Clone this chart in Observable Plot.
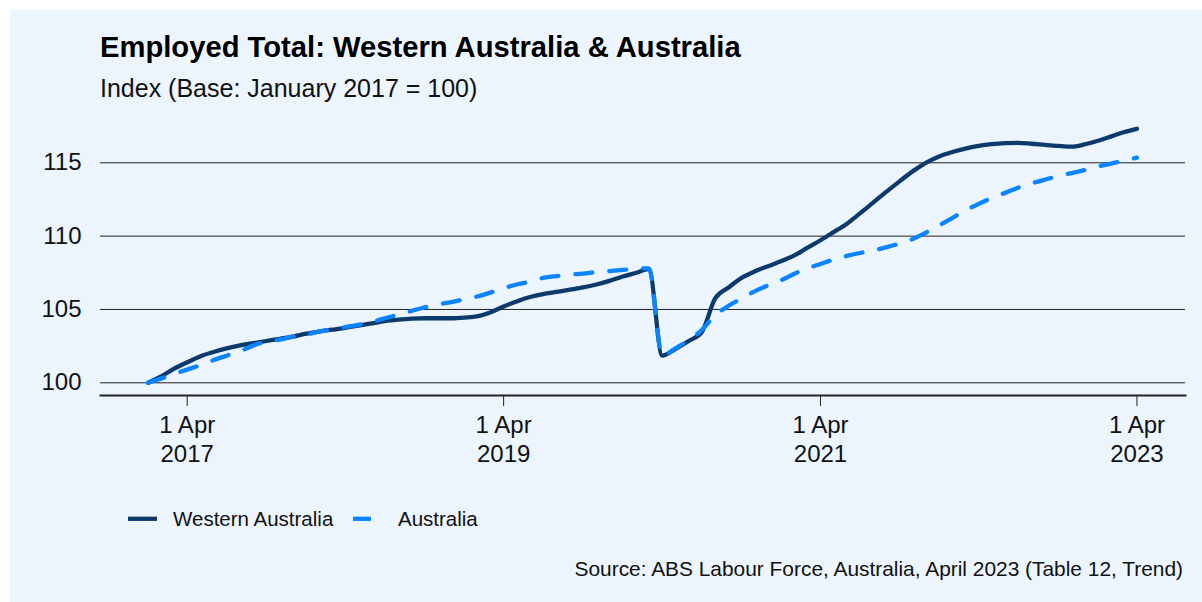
<!DOCTYPE html>
<html>
<head>
<meta charset="utf-8">
<script src="https://cdn.jsdelivr.net/npm/d3@7"></script>
<script src="https://cdn.jsdelivr.net/npm/@observablehq/plot@0.6"></script>
<style>
  html, body { margin: 0; padding: 0; background: #ffffff; }
  body { width: 1202px; height: 602px; position: relative; overflow: hidden; font-family: "Liberation Sans", Arial, sans-serif; color: #111; }
  #panel { position: absolute; left: 10px; top: 10px; width: 1192px; height: 592px; background: #ECF4FD; }
  .txt { position: absolute; white-space: nowrap; }
  #title { left: 100px; top: 33.3px; font-size: 29.2px; line-height: 29.2px; font-weight: bold; color: #000; }
  #subtitle { left: 100px; top: 75.8px; font-size: 25px; line-height: 25px; color: #111; }
  #chart { position: absolute; left: 0; top: 100px; }
  #legend { position: absolute; left: 0; top: 500px; width: 600px; height: 40px; }
  #caption { right: 19px; top: 559px; font-size: 20.9px; line-height: 20.9px; color: #111; }
</style>
</head>
<body>
<div id="panel"></div>
<div id="title" class="txt">Employed Total: Western Australia &amp; Australia</div>
<div id="subtitle" class="txt">Index (Base: January 2017 = 100)</div>
<div id="chart"></div>
<div id="legend"></div>
<div id="caption" class="txt">Source: ABS Labour Force, Australia, April 2023 (Table 12, Trend)</div>
<script>
// ---- Data (monthly, January 2017 to April 2023) ----
const startMonth = Date.UTC(2017, 0, 1);
const seriesNames = ["Western Australia", "Australia"];
const seriesColors = ["#0C3A6B", "#0A84FF"];
const waValues = [
  100.0, 100.45, 100.95, 101.4, 101.8, 102.1, 102.35, 102.55, 102.7, 102.85, 103.0, 103.15,
  103.35, 103.5, 103.62, 103.75, 103.9, 104.05, 104.2, 104.3, 104.37, 104.4, 104.4, 104.4,
  104.45, 104.55, 104.8, 105.2, 105.55, 105.85, 106.05, 106.2, 106.35, 106.5, 106.7, 106.95,
  107.25, 107.5, 107.75, 101.85, 102.3, 102.85, 103.45, 105.75, 106.5, 107.15, 107.6, 107.95,
  108.3, 108.7, 109.2, 109.72, 110.27, 110.85, 111.55, 112.3, 113.05, 113.75, 114.45, 115.02,
  115.45, 115.75, 115.97, 116.15, 116.27, 116.34, 116.36, 116.3, 116.22, 116.15, 116.1, 116.25,
  116.5, 116.8, 117.08, 117.32
];
const ausValues = [
  100.0, 100.3, 100.6, 100.9, 101.2, 101.55, 101.85, 102.15, 102.55, 102.8, 102.95, 103.15,
  103.3, 103.5, 103.65, 103.8, 103.95, 104.15, 104.4, 104.65, 104.9, 105.15, 105.35, 105.5,
  105.7, 105.9, 106.15, 106.45, 106.7, 106.9, 107.15, 107.28, 107.38, 107.45, 107.55, 107.62,
  107.7, 107.78, 107.8, 101.85, 102.35, 102.9, 103.6, 104.6, 105.25, 105.75, 106.25, 106.65,
  107.0, 107.45, 107.8, 108.1, 108.4, 108.65, 108.85, 109.03, 109.25, 109.5, 109.82, 110.25,
  110.75, 111.27, 111.75, 112.2, 112.6, 112.95, 113.3, 113.6, 113.85, 114.1, 114.3, 114.5,
  114.75, 114.95, 115.15, 115.35
];
const yTicks = [100, 105, 110, 115];
const xTickDates = ["2017-04-01", "2019-04-01", "2021-04-01", "2023-04-01"];
const xDomain = ["2016-09-13", "2023-07-22"];
const yDomain = [99.134, 118.566];

// ---- Build table ----
const rows = [];
[waValues, ausValues].forEach((vals, s) => {
  vals.forEach((v, i) => rows.push({
    date: d3.utcMonth.offset(new Date(startMonth), i),
    value: v,
    series: seriesNames[s]
  }));
});

const chart = Plot.plot({
  width: 1202,
  height: 360,
  marginLeft: 100,
  marginRight: 17,
  marginTop: 10,
  marginBottom: 65,
  style: { background: "transparent", fontFamily: "'Liberation Sans', Arial, sans-serif", fontSize: "24px", color: "#111", overflow: "visible" },
  x: { type: "utc", domain: xDomain.map(d => new Date(d)) },
  y: { domain: yDomain },
  marks: [
    Plot.ruleY(yTicks, { stroke: "#222", strokeWidth: 1 }),
    Plot.axisY({ ticks: yTicks, tickSize: 0, tickPadding: 19, label: null, fontSize: 24 }),
    Plot.axisX({
      ticks: xTickDates.map(d => new Date(d)),
      tickFormat: d => `1 Apr\n${d.getUTCFullYear()}`,
      tickSize: 11, tickPadding: 7, lineHeight: 1.17, label: null, fontSize: 24, stroke: "#222"
    }),
    Plot.frame({ anchor: "bottom", stroke: "#222", strokeWidth: 2 }),
    Plot.lineY(rows.filter(d => d.series === seriesNames[0]), {
      x: "date", y: "value", stroke: seriesColors[0], strokeWidth: 4.3, curve: "monotone-x"
    }),
    Plot.lineY(rows.filter(d => d.series === seriesNames[1]), {
      x: "date", y: "value", stroke: seriesColors[1], strokeWidth: 4.3, strokeDasharray: "17,17", curve: "monotone-x"
    })
  ]
});
document.getElementById("chart").appendChild(chart);

// ---- Legend ----
const lg = d3.select("#legend").append("svg").attr("width", 600).attr("height", 40)
  .style("font-family", "'Liberation Sans', Arial, sans-serif").style("font-size", "20.5px");
const legendItems = [
  { name: seriesNames[0], color: seriesColors[0], x1: 128, x2: 157, tx: 173 },
  { name: seriesNames[1], color: seriesColors[1], x1: 353, x2: 371, tx: 398 }
];
legendItems.forEach(it => {
  lg.append("line").attr("x1", it.x1).attr("x2", it.x2).attr("y1", 18.8).attr("y2", 18.8)
    .attr("stroke", it.color).attr("stroke-width", 4.3);
  lg.append("text").attr("x", it.tx).attr("y", 26).attr("fill", "#111").text(it.name);
});
</script>
</body>
</html>
